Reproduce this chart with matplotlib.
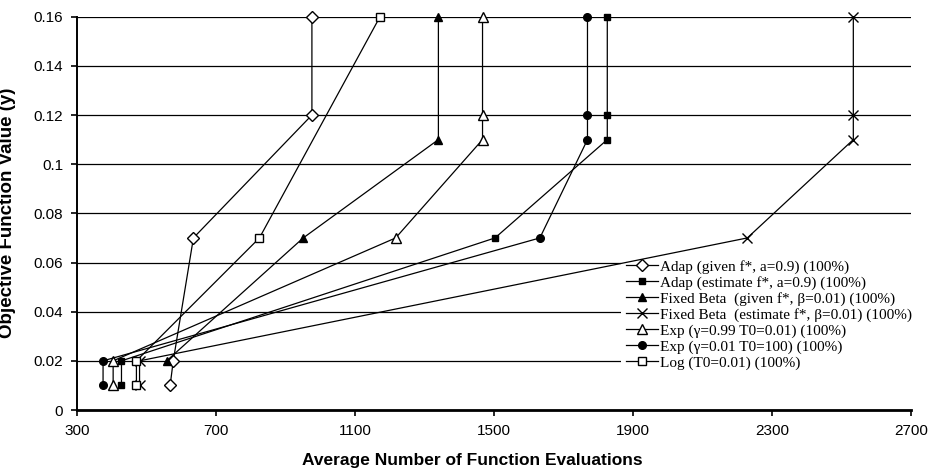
import matplotlib
matplotlib.use("Agg")
import matplotlib.pyplot as plt

# ---- data ----
adap_given_x = [568, 577, 635, 976, 976]
adap_given_y = [0.01, 0.02, 0.07, 0.12, 0.16]

adap_est_x = [428, 428, 1503, 1826, 1826, 1826]
adap_est_y = [0.01, 0.02, 0.07, 0.11, 0.12, 0.16]

fb_given_x = [558, 951, 1340, 1340]
fb_given_y = [0.02, 0.07, 0.11, 0.16]

fb_est_x = [480, 480, 2229, 2534, 2534, 2534]
fb_est_y = [0.01, 0.02, 0.07, 0.11, 0.12, 0.16]

exp99_x = [404, 404, 1217, 1467, 1467, 1467]
exp99_y = [0.01, 0.02, 0.07, 0.11, 0.12, 0.16]

exp01_x = [375, 375, 1632, 1769, 1769, 1769]
exp01_y = [0.01, 0.02, 0.07, 0.11, 0.12, 0.16]

log_x = [471, 471, 825, 1172]
log_y = [0.01, 0.02, 0.07, 0.16]

labels = [
    "Adap (given f*, a=0.9) (100%)",
    "Adap (estimate f*, a=0.9) (100%)",
    "Fixed Beta  (given f*, \u03b2=0.01) (100%)",
    "Fixed Beta  (estimate f*, \u03b2=0.01) (100%)",
    "Exp (\u03b3=0.99 T0=0.01) (100%)",
    "Exp (\u03b3=0.01 T0=100) (100%)",
    "Log (T0=0.01) (100%)",
]

x_ticks = [300, 700, 1100, 1500, 1900, 2300, 2700]
y_ticks = [0, 0.02, 0.04, 0.06, 0.08, 0.1, 0.12, 0.14, 0.16]
y_ticklabels = ["0", "0.02", "0.04", "0.06", "0.08", "0.1", "0.12", "0.14", "0.16"]

plt.rcParams['font.family'] = ['Liberation Sans', 'DejaVu Sans']

fig = plt.figure(figsize=(9.35, 4.72), dpi=100)
ax = fig.add_axes([77/935, 1-410/472, (911-77)/935, (410-16.7)/472])

series = [
    (adap_given_x, adap_given_y, dict(marker='D', ms=6.5, mfc='white', mec='black')),
    (adap_est_x, adap_est_y, dict(marker='s', ms=4.5, mfc='black', mec='black')),
    (fb_given_x, fb_given_y, dict(marker='^', ms=5.5, mfc='black', mec='black')),
    (fb_est_x, fb_est_y, dict(marker='x', ms=7, mfc='black', mec='black', mew=1.0)),
    (exp99_x, exp99_y, dict(marker='^', ms=7, mfc='white', mec='black')),
    (exp01_x, exp01_y, dict(marker='o', ms=5.5, mfc='black', mec='black')),
    (log_x, log_y, dict(marker='s', ms=6, mfc='white', mec='black')),
]

handles = []
for (xs, ys, st), lab in zip(series, labels):
    h, = ax.plot(xs, ys, color='black', lw=0.9, label=lab, zorder=3,
                 clip_on=False, **st)
    handles.append(h)

ax.set_xlim(300, 2700)
ax.set_ylim(0, 0.16)
ax.set_xticks(x_ticks)
ax.set_xticklabels([str(v) for v in x_ticks])
ax.set_yticks(y_ticks)
ax.set_yticklabels(y_ticklabels)

ax.set_axisbelow(True)
ax.yaxis.grid(True, color='black', lw=0.9)
ax.xaxis.grid(False)

for s in ['top', 'right']:
    ax.spines[s].set_visible(False)
ax.spines['left'].set_linewidth(1.4)
ax.spines['bottom'].set_linewidth(2.0)
ax.spines['left'].set_zorder(4)
ax.spines['bottom'].set_zorder(4)

ax.tick_params(axis='both', direction='out', length=4, width=1.2, labelsize=11, colors='black')
ax.tick_params(axis='y', pad=6)
ax.tick_params(axis='x', pad=6)

fig.text(472/935, 1-460.7/472, "Average Number of Function Evaluations",
         ha='center', va='center', fontsize=12.5, fontweight='bold')
fig.text(8.0/935, 1-213/472, "Objective Function Value (y)", rotation=90,
         ha='center', va='center', fontsize=13.5, fontweight='bold')

leg = ax.legend(handles=handles, loc='upper left',
                bbox_to_anchor=((621-77)/834, (410-255)/393.3),
                prop={'family': ['Liberation Serif', 'DejaVu Serif'], 'size': 11},
                frameon=True, facecolor='white', edgecolor='none', framealpha=1.0,
                handlelength=2.1, handletextpad=0.15, labelspacing=0.14,
                borderpad=0.3, borderaxespad=0.0, fancybox=False)
leg.set_zorder(2)

fig.savefig("out.png", dpi=100)
